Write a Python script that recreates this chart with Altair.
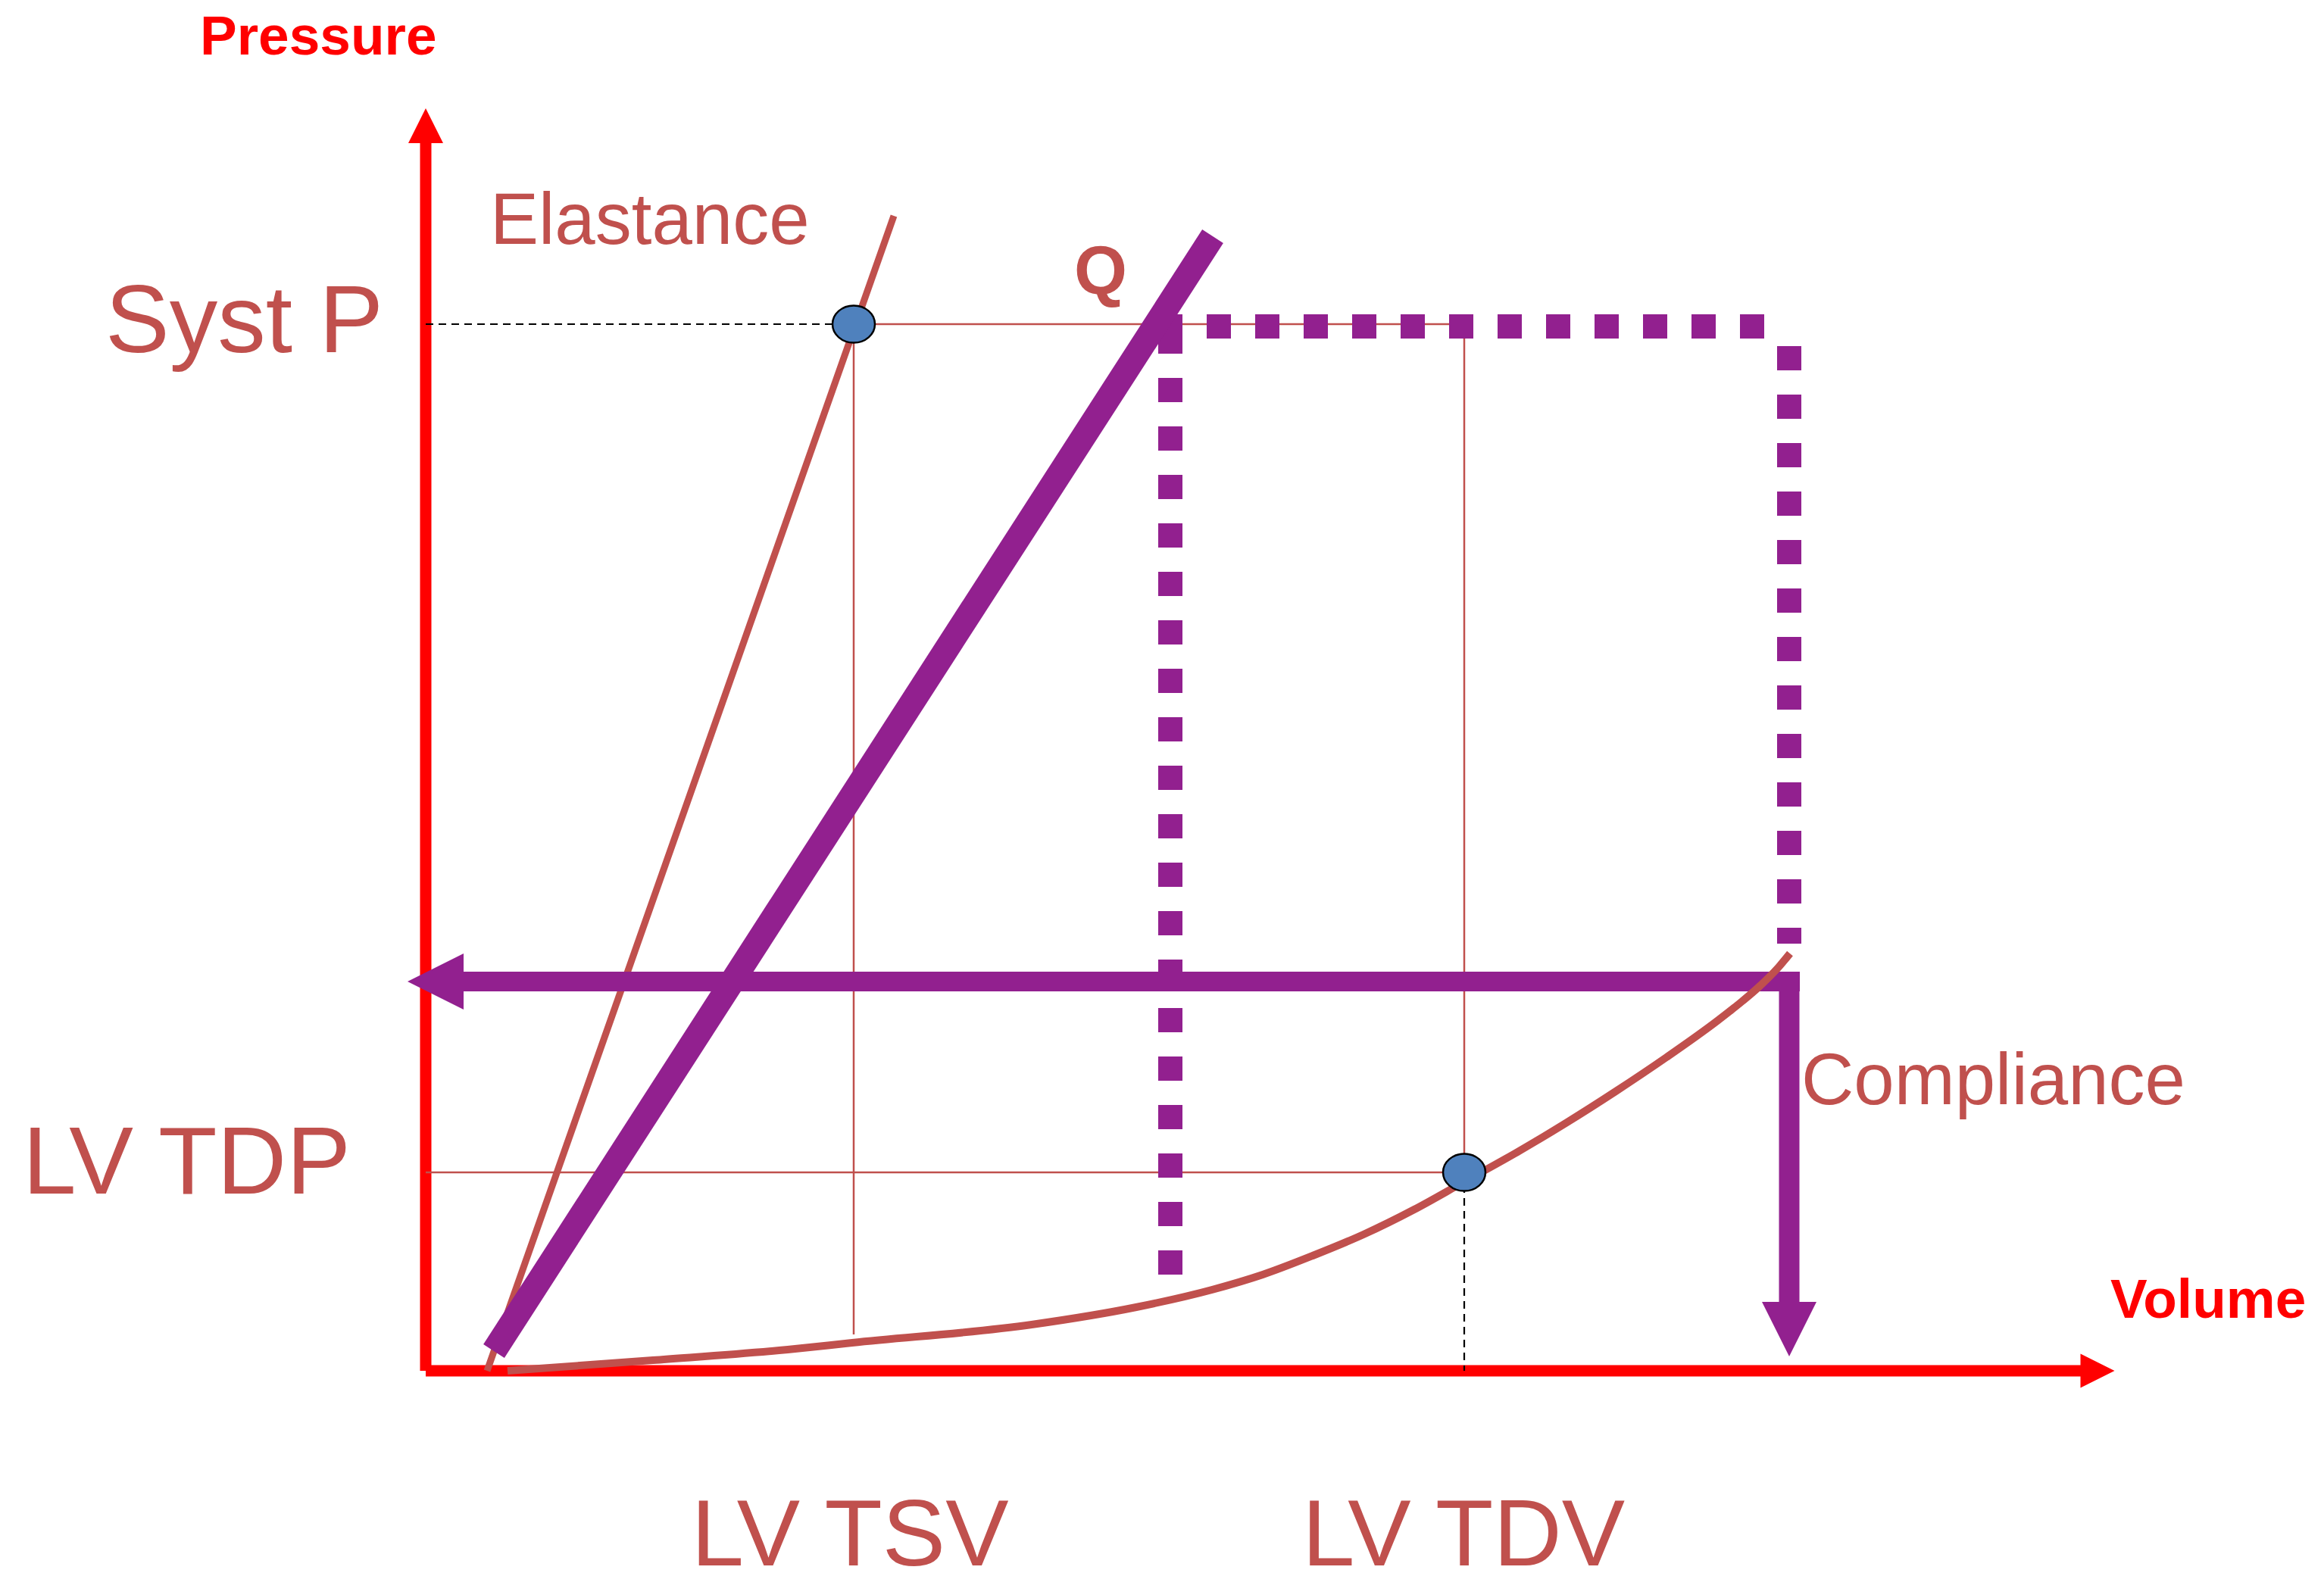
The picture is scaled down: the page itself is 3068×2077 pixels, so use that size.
import altair as alt
import pandas as pd

# ---------------- data (volume V / pressure P, measured from the origin) ----------------
SYST_P = 1382          # Syst P level
LV_TDP = 262           # LV TDP level
LV_TSV = 565           # LV TSV volume
LV_TDV = 1371          # LV TDV volume

AXIS_V_END = 2185      # end of volume axis shaft
AXIS_P_END = 1622      # end of pressure axis shaft

ELASTANCE_V = [81, 618]
ELASTANCE_P = [0, 1525]

Q_V = [90, 1039]
Q_P = [26, 1498]

COMPLIANCE_V = [108, 300, 478, 563, 800, 938, 1038, 1105, 1171, 1238, 1305, 1368,
                1438, 1505, 1571, 1638, 1705, 1738, 1759, 1786, 1801]
COMPLIANCE_P = [0, 14, 28, 37, 61, 84, 107, 127, 152, 180, 213, 248,
                287, 327, 369, 414, 462, 488, 506, 533, 551]

RETURN_P = 514
RETURN_V = [50, 1814]
DROP_V = 1800
DROP_P = [527, 91]

DOT_H_P = 1379
DOT_H_V = [967, 1767]
DOT_L_V = 983
DOT_L_P = [127, 1375]
DOT_R_V = 1800
DOT_R_P = [1353, 564]

LABELS = ["Pressure", "Volume", "Elastance", "Q", "Syst P", "LV TDP", "LV TSV", "LV TDV", "Compliance"]
LABEL_V = [-298, 2224, 85, 891, -423, -532, 560, 1370, 1816]
LABEL_P = [1738, 70, 1488, 1422, 1345, 234, -257, -257, 352]

# ---------------- styles ----------------
RED = "#FF0000"
BRICK = "#C0504D"
PURPLE = "#92208F"
BLUE = "#4F81BD"
FONT = "Liberation Sans"

xs = alt.Scale(domain=[-554, 2498], nice=False, zero=False)
ys = alt.Scale(domain=[-259, 1802], nice=False, zero=False)


def seg(rows, **mk):
    df = pd.DataFrame(rows, columns=["x", "y", "x2", "y2"])
    return alt.Chart(df).mark_rule(**mk).encode(
        x=alt.X("x:Q", scale=xs, axis=None),
        y=alt.Y("y:Q", scale=ys, axis=None),
        x2="x2:Q",
        y2="y2:Q",
    )


def sym(v, p, shape, size, **mk):
    df = pd.DataFrame({"x": v, "y": p})
    return alt.Chart(df).mark_point(shape=shape, size=size, filled=True, opacity=1, **mk).encode(
        x=alt.X("x:Q", scale=xs, axis=None),
        y=alt.Y("y:Q", scale=ys, axis=None),
    )


def label(names, bold, size, color, align):
    idx = [LABELS.index(n) for n in names]
    df = pd.DataFrame({
        "t": [LABELS[i] for i in idx],
        "x": [LABEL_V[i] for i in idx],
        "y": [LABEL_P[i] for i in idx],
    })
    return alt.Chart(df).mark_text(
        font=FONT, fontSize=size, fontWeight="bold" if bold else "normal",
        color=color, align=align, baseline="alphabetic",
    ).encode(
        x=alt.X("x:Q", scale=xs, axis=None),
        y=alt.Y("y:Q", scale=ys, axis=None),
        text="t:N",
    )


# axes
axes = seg([[0, 0, 0, AXIS_P_END], [0, 0, AXIS_V_END, 0]], color=RED, strokeWidth=15)
y_head = sym([0], [AXIS_P_END + 22], "M0,-1L1,1L-1,1Z", 46 * 46, color=RED)
x_head = sym([AXIS_V_END + 22], [0], "M1,0L-1,-1L-1,1Z", 45 * 45, color=RED)

# thin guide lines
guides = seg([
    [LV_TSV, SYST_P, LV_TDV, SYST_P],
    [LV_TSV, SYST_P, LV_TSV, 48],
    [LV_TDV, SYST_P, LV_TDV, LV_TDP],
    [0, LV_TDP, LV_TDV, LV_TDP],
], color=BRICK, strokeWidth=2.5)
dashed = seg([
    [0, SYST_P, LV_TSV, SYST_P],
    [LV_TDV, LV_TDP, LV_TDV, 0],
], color="black", strokeWidth=2.2, strokeDash=[10, 7])

elast = seg([[ELASTANCE_V[0], ELASTANCE_P[0], ELASTANCE_V[1], ELASTANCE_P[1]]],
            color=BRICK, strokeWidth=9)

dotted = seg([
    [DOT_H_V[0], DOT_H_P, DOT_H_V[1], DOT_H_P],
    [DOT_L_V, DOT_L_P[0], DOT_L_V, DOT_L_P[1]],
    [DOT_R_V, DOT_R_P[0], DOT_R_V, DOT_R_P[1]],
], color=PURPLE, strokeWidth=32, strokeDash=[32, 32])

qline = seg([[Q_V[0], Q_P[0], Q_V[1], Q_P[1]]], color=PURPLE, strokeWidth=33)

ret = seg([[RETURN_V[0], RETURN_P, RETURN_V[1], RETURN_P]], color=PURPLE, strokeWidth=26)
drop = seg([[DROP_V, DROP_P[0], DROP_V, DROP_P[1]]], color=PURPLE, strokeWidth=27)
ret_head = sym([RETURN_V[0] - 37], [RETURN_P], "M-1,0L1,-1L1,1Z", 74 * 74, color=PURPLE)
drop_head = sym([DROP_V], [DROP_P[1] - 36], "M0,1L-1,-1L1,-1Z", 72 * 72, color=PURPLE)

curve_df = pd.DataFrame({"x": COMPLIANCE_V, "y": COMPLIANCE_P, "o": range(len(COMPLIANCE_V))})
curve = alt.Chart(curve_df).mark_line(color=BRICK, strokeWidth=10, interpolate="monotone").encode(
    x=alt.X("x:Q", scale=xs, axis=None),
    y=alt.Y("y:Q", scale=ys, axis=None),
    order="o:Q",
)

dots = sym([LV_TSV, LV_TDV], [SYST_P, LV_TDP],
           "M-1,0A1,0.875,0,1,1,1,0A1,0.875,0,1,1,-1,0Z", 56 * 56,
           fill=BLUE, stroke="black", strokeWidth=2.5)

texts = [
    label(["Pressure", "Volume"], True, 73, RED, "left"),
    label(["Elastance", "Compliance"], False, 96, BRICK, "left"),
    label(["Q"], True, 90, BRICK, "center"),
    label(["Syst P", "LV TDP"], False, 127, BRICK, "left"),
    label(["LV TSV", "LV TDV"], False, 125, BRICK, "center"),
]

chart = alt.layer(
    axes, y_head, x_head, guides, dashed, elast, dotted, qline,
    ret, drop, ret_head, drop_head, curve, dots, *texts,
).properties(
    width=3052, height=2061, padding=0, autosize=alt.AutoSizeParams(type="none"),
    background="white",
).configure_view(stroke=None)

chart.save("out.html", embed_options={"renderer": "svg", "actions": False})
